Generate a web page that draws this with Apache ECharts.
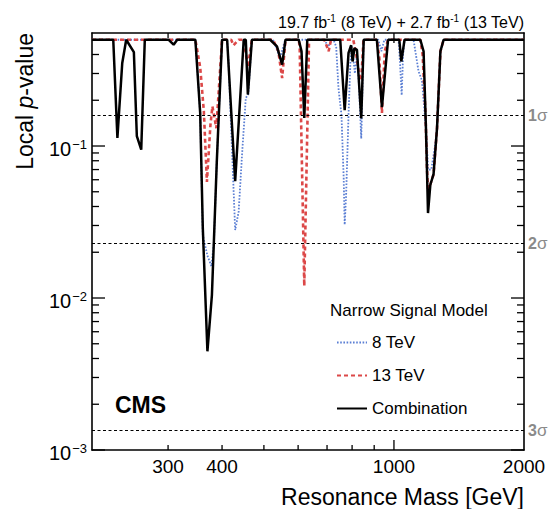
<!DOCTYPE html>
<html>
<head>
<meta charset="utf-8">
<script src="https://cdn.jsdelivr.net/npm/echarts@6/dist/echarts.min.js"></script>
<style>
html,body{margin:0;padding:0;background:#fff;}
#c{width:549px;height:509px;}
</style>
</head>
<body>
<div id="c"></div>
<script>
// ---- data ----
const massComb = [200, 224, 229, 235, 240, 250, 254, 260, 265, 301, 309, 315, 347, 356, 361, 370, 379, 389, 400, 411, 429, 449, 454, 459, 469, 517, 536, 551, 561, 602, 611, 620, 630, 751, 769, 785, 796, 802, 810, 821, 840, 851, 913, 938, 969, 1029, 1040, 1058, 1151, 1171, 1186, 1199, 1214, 1235, 1258, 1281, 1303, 2000];
const pComb    = [0.5, 0.5, 0.113, 0.352, 0.5, 0.415, 0.116, 0.0946, 0.5, 0.5, 0.464, 0.5, 0.5, 0.165, 0.029, 0.00446, 0.0105, 0.0793, 0.5, 0.5, 0.0586, 0.5, 0.5, 0.218, 0.5, 0.5, 0.453, 0.343, 0.5, 0.5, 0.42, 0.153, 0.5, 0.5, 0.172, 0.41, 0.46, 0.36, 0.44, 0.43, 0.152, 0.5, 0.5, 0.18, 0.5, 0.5, 0.36, 0.5, 0.5, 0.42, 0.131, 0.0362, 0.0556, 0.0653, 0.131, 0.42, 0.5, 0.5];

const mass8 = [200, 347, 356, 361, 370, 378, 383, 389, 400, 411, 414, 429, 437, 445, 454, 460, 469, 525, 545, 560, 690, 705, 718, 725, 735, 744, 756, 765, 769, 775, 785, 793, 800, 812, 822, 830, 840, 851, 920, 935, 950, 1025, 1033, 1042, 1050, 1058, 1110, 1140, 1161, 1186, 1200, 1220, 1245, 1258, 1281, 1303, 2000];
const p8    = [0.5, 0.5, 0.165, 0.026, 0.019, 0.0162, 0.023, 0.0793, 0.5, 0.5, 0.36, 0.028, 0.037, 0.088, 0.207, 0.22, 0.5, 0.5, 0.38, 0.5, 0.5, 0.45, 0.5, 0.5, 0.45, 0.24, 0.16, 0.061, 0.0304, 0.048, 0.161, 0.36, 0.45, 0.3, 0.4, 0.25, 0.112, 0.5, 0.5, 0.42, 0.5, 0.5, 0.35, 0.216, 0.4, 0.5, 0.5, 0.31, 0.27, 0.13, 0.07, 0.07, 0.1, 0.131, 0.42, 0.5, 0.5];

const mass13 = [200, 347, 356, 363, 369, 376, 380, 388, 400, 420, 425, 437, 449, 459, 469, 525, 540, 551, 561, 602, 605, 620, 636, 690, 706, 715, 805, 818, 830, 840, 850, 913, 925, 938, 952, 969, 1151, 1165, 1183, 1193, 1200, 1214, 1235, 1258, 1281, 1303, 2000];
const p13    = [0.5, 0.5, 0.33, 0.17, 0.058, 0.138, 0.182, 0.131, 0.5, 0.5, 0.46, 0.5, 0.5, 0.33, 0.5, 0.5, 0.42, 0.28, 0.5, 0.5, 0.45, 0.012, 0.5, 0.5, 0.42, 0.5, 0.5, 0.4, 0.3, 0.27, 0.5, 0.5, 0.38, 0.165, 0.42, 0.5, 0.5, 0.4, 0.165, 0.069, 0.05, 0.056, 0.065, 0.131, 0.42, 0.5, 0.5];

const xTickValues  = [300, 400, 500, 600, 700, 800, 900, 1000];
const xLabelValues = [300, 400, 1000, 2000];
const yTickValues  = [0.001, 0.002, 0.003, 0.004, 0.005, 0.006, 0.007, 0.008, 0.009,
                      0.01, 0.02, 0.03, 0.04, 0.05, 0.06, 0.07, 0.08, 0.09,
                      0.1, 0.2, 0.3, 0.4, 0.5];
const yLabelValues = [0.001, 0.01, 0.1];
const yLabelExps   = ['\u22123', '\u22122', '\u22121'];
const sigmaValues  = [0.1587, 0.02275, 0.00135];
const sigmaLabels  = ['1σ', '2σ', '3σ'];
const seriesNames  = ['8 TeV', '13 TeV', 'Combination'];

// ---- chart ----
const FONT = '"Liberation Sans", Arial, Helvetica, sans-serif';
const X_MIN = 200, X_MAX = 2000, Y_MIN = 0.001, Y_MAX = 0.554;
const pairs = (xs, ys) => xs.map((x, i) => [x, ys[i]]);
const isPow10 = v => Math.abs(Math.log10(v) - Math.round(Math.log10(v))) < 1e-9;

const chart = echarts.init(document.getElementById('c'), null, {renderer: 'svg'});

const axisCommon = {
  axisLine: {show: true, onZero: false, lineStyle: {color: '#000', width: 1.6}},
  axisTick: {show: false},
  minorTick: {show: false},
  axisLabel: {show: false},
  splitLine: {show: false}
};

const option = {
  animation: false,
  backgroundColor: '#fff',
  grid: {left: 92, right: 25, top: 33, bottom: 59, containLabel: false, outerBoundsMode: 'none'},
  xAxis: [
    Object.assign({type: 'log', logBase: 10, min: X_MIN, max: X_MAX, position: 'bottom'}, axisCommon),
    Object.assign({type: 'log', logBase: 10, min: X_MIN, max: X_MAX, position: 'top'}, axisCommon)
  ],
  yAxis: [
    Object.assign({type: 'log', logBase: 10, min: Y_MIN, max: Y_MAX, position: 'left'}, axisCommon),
    Object.assign({type: 'log', logBase: 10, min: Y_MIN, max: Y_MAX, position: 'right'}, axisCommon)
  ],
  legend: {
    data: seriesNames,
    orient: 'vertical',
    left: 331, top: 329,
    itemWidth: 30, itemHeight: 14, itemGap: 16,
    selectedMode: false,
    itemStyle: {opacity: 0},
    textStyle: {fontFamily: FONT, fontSize: 17, color: '#000'}
  },
  graphic: [
    {type: 'text', x: 524, y: 22, silent: true,
     style: {text: '{m|19.7 fb}{s|-1}{m| (8 TeV) + 2.7 fb}{s|-1}{m| (13 TeV)}',
             align: 'right', verticalAlign: 'middle', textAlign: 'right', textVerticalAlign: 'middle',
             fill: '#000',
             rich: {m: {fontFamily: FONT, fontSize: 16, lineHeight: 18, fill: '#000'},
                    s: {fontFamily: FONT, fontSize: 10, lineHeight: 10, verticalAlign: 'top', fill: '#000'}}}},
    {type: 'text', x: 25, y: 33, rotation: Math.PI / 2, silent: true,
     style: {text: '{n|Local }{i|p}{n|-value}',
             align: 'right', verticalAlign: 'middle', textAlign: 'right', textVerticalAlign: 'middle',
             fill: '#000',
             rich: {n: {fontFamily: FONT, fontSize: 23, fill: '#000'},
                    i: {fontFamily: FONT, fontSize: 23, fontStyle: 'italic', fill: '#000'}}}},
    {type: 'text', x: 524, y: 497, silent: true,
     style: {text: 'Resonance Mass [GeV]', fontFamily: FONT, fontSize: 23, fill: '#000',
             align: 'right', verticalAlign: 'middle', textAlign: 'right', textVerticalAlign: 'middle'}},
    {type: 'text', x: 115, y: 405, silent: true,
     style: {text: 'CMS', fontFamily: FONT, fontSize: 23, fontWeight: 'bold', fill: '#000',
             align: 'left', verticalAlign: 'middle', textAlign: 'left', textVerticalAlign: 'middle'}},
    {type: 'text', x: 330, y: 310, silent: true,
     style: {text: 'Narrow Signal Model', fontFamily: FONT, fontSize: 17, fill: '#000',
             align: 'left', verticalAlign: 'middle', textAlign: 'left', textVerticalAlign: 'middle'}}
  ],
  series: [
    {name: seriesNames[0], type: 'line', data: pairs(mass8, p8), symbol: 'none', silent: true, z: 3,
     lineStyle: {color: '#5b7fd4', width: 1.8, type: [1.6, 1.6]}, itemStyle: {color: '#5b7fd4'}},
    {name: seriesNames[1], type: 'line', data: pairs(mass13, p13), symbol: 'none', silent: true, z: 4,
     lineStyle: {color: '#dc4848', width: 2.6, type: [4, 3]}, itemStyle: {color: '#dc4848'}},
    {name: seriesNames[2], type: 'line', data: pairs(massComb, pComb), symbol: 'none', silent: true, z: 5,
     lineStyle: {color: '#000', width: 2.5, type: 'solid'}, itemStyle: {color: '#000'},
     markLine: {
       silent: true, symbol: ['none', 'none'], animation: false, precision: 8,
       lineStyle: {color: '#000', width: 1, type: [3, 2.5]},
       label: {show: true, position: 'end', distance: 4,
               formatter: p => '{n|' + p.name.slice(0, -1) + '}{g|σ}',
               rich: {n: {fontFamily: FONT, fontSize: 16, fontWeight: 'bold', color: '#8a8a8a'},
                      g: {fontFamily: FONT, fontSize: 17, color: '#8a8a8a'}}},
       emphasis: {disabled: true},
       data: sigmaValues.map((v, i) => ({yAxis: v, name: sigmaLabels[i]}))
     }},
    // x ticks (bottom + top)
    {type: 'custom', coordinateSystem: 'cartesian2d', silent: true, clip: false, z: 6,
     data: xTickValues.map(v => [v, Y_MIN]),
     renderItem: (params, api) => {
       const cs = params.coordSys;
       const v = api.value(0);
       const x = api.coord([v, Y_MIN])[0];
       const len = isPow10(v) ? 10 : 5;
       const b = cs.y + cs.height, t = cs.y;
       return {type: 'group', children: [
         {type: 'line', shape: {x1: x, y1: b, x2: x, y2: b - len}, style: {stroke: '#000', lineWidth: 1.3}},
         {type: 'line', shape: {x1: x, y1: t, x2: x, y2: t + len}, style: {stroke: '#000', lineWidth: 1.3}}
       ]};
     }},
    // x labels
    {type: 'custom', coordinateSystem: 'cartesian2d', silent: true, clip: false, z: 6,
     data: xLabelValues.map(v => [v, Y_MIN]),
     renderItem: (params, api) => {
       const cs = params.coordSys;
       const v = api.value(0);
       const x = api.coord([v, Y_MIN])[0];
       return {type: 'text', x: x, y: cs.y + cs.height + 16,
               style: {text: String(v), fontFamily: FONT, fontSize: 19, fill: '#000',
                       align: 'center', verticalAlign: 'middle', textAlign: 'center', textVerticalAlign: 'middle'}};
     }},
    // y ticks (left + right)
    {type: 'custom', coordinateSystem: 'cartesian2d', silent: true, clip: false, z: 6,
     data: yTickValues.map(v => [X_MIN, v]),
     renderItem: (params, api) => {
       const cs = params.coordSys;
       const v = api.value(1);
       const y = api.coord([X_MIN, v])[1];
       const len = isPow10(v) ? 13 : 7;
       const l = cs.x, r = cs.x + cs.width;
       return {type: 'group', children: [
         {type: 'line', shape: {x1: l, y1: y, x2: l + len, y2: y}, style: {stroke: '#000', lineWidth: 1.3}},
         {type: 'line', shape: {x1: r, y1: y, x2: r - len, y2: y}, style: {stroke: '#000', lineWidth: 1.3}}
       ]};
     }},
    // y labels
    {type: 'custom', coordinateSystem: 'cartesian2d', silent: true, clip: false, z: 6,
     data: yLabelValues.map(v => [X_MIN, v]),
     renderItem: (params, api) => {
       const cs = params.coordSys;
       const v = api.value(1);
       const y = api.coord([X_MIN, v])[1];
       const exp = yLabelExps[params.dataIndex];
       return {type: 'text', x: cs.x - 5, y: y + 2.5,
               style: {text: '{b|10}{s|' + exp + '}',
                       align: 'right', verticalAlign: 'middle', textAlign: 'right', textVerticalAlign: 'middle',
                       fill: '#000',
                       rich: {b: {fontFamily: FONT, fontSize: 20, lineHeight: 22, fill: '#000'},
                              s: {fontFamily: FONT, fontSize: 13, lineHeight: 11, verticalAlign: 'top',
                                  padding: [0, 0, 0, 1], fill: '#000'}}}};
     }}
  ]
};

chart.setOption(option);
</script>
</body>
</html>
